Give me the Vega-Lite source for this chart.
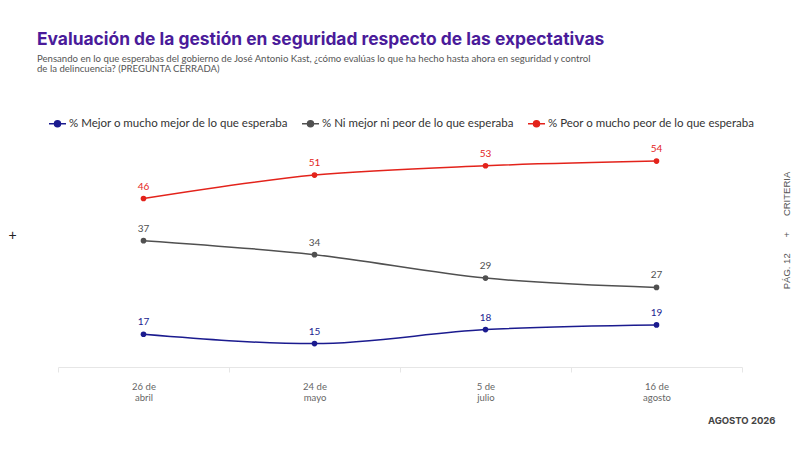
{
  "$schema": "https://vega.github.io/schema/vega-lite/v6.json",
  "width": 684,
  "height": 234,
  "autosize": {"type": "none"},
  "padding": {"left": 58, "top": 133, "right": 58, "bottom": 83},
  "background": "white",
  "config": {"view": {"stroke": null}, "font": "Lato"},
  "title": {
    "text": "Evaluación de la gestión en seguridad respecto de las expectativas",
    "subtitle": ["Pensando en lo que esperabas del gobierno de José Antonio Kast, ¿cómo evalúas lo que ha hecho hasta ahora en seguridad y control", "de la delincuencia? (PREGUNTA CERRADA)"],
    "anchor": "start",
    "frame": "group",
    "dx": -21,
    "offset": 40,
    "font": "Inter",
    "fontSize": 17.4,
    "fontWeight": 700,
    "color": "#4a1b9a",
    "subtitleFont": "Lato",
    "subtitleFontSize": 9.6,
    "subtitleColor": "#555555",
    "subtitlePadding": 6,
    "subtitleLineHeight": 10
  },
  "data": {
    "values": [
      {"fecha": "26 de abril", "serie": "% Mejor o mucho mejor de lo que esperaba", "valor": 17},
      {"fecha": "24 de mayo", "serie": "% Mejor o mucho mejor de lo que esperaba", "valor": 15},
      {"fecha": "5 de julio", "serie": "% Mejor o mucho mejor de lo que esperaba", "valor": 18},
      {"fecha": "16 de agosto", "serie": "% Mejor o mucho mejor de lo que esperaba", "valor": 19},
      {"fecha": "26 de abril", "serie": "% Ni mejor ni peor de lo que esperaba", "valor": 37},
      {"fecha": "24 de mayo", "serie": "% Ni mejor ni peor de lo que esperaba", "valor": 34},
      {"fecha": "5 de julio", "serie": "% Ni mejor ni peor de lo que esperaba", "valor": 29},
      {"fecha": "16 de agosto", "serie": "% Ni mejor ni peor de lo que esperaba", "valor": 27},
      {"fecha": "26 de abril", "serie": "% Peor o mucho peor de lo que esperaba", "valor": 46},
      {"fecha": "24 de mayo", "serie": "% Peor o mucho peor de lo que esperaba", "valor": 51},
      {"fecha": "5 de julio", "serie": "% Peor o mucho peor de lo que esperaba", "valor": 53},
      {"fecha": "16 de agosto", "serie": "% Peor o mucho peor de lo que esperaba", "valor": 54}
    ]
  },
  "encoding": {
    "x": {
      "field": "fecha",
      "type": "nominal",
      "sort": null,
      "scale": {"type": "band", "paddingInner": 0, "paddingOuter": 0},
      "axis": {
        "title": "AGOSTO 2026",
        "titleX": 717,
        "titleY": 53,
        "titleAlign": "right",
        "titleBaseline": "middle",
        "titleFont": "Inter",
        "titleFontSize": 9.5,
        "titleFontWeight": 700,
        "titleColor": "#444444",
        "labelAngle": 0,
        "labelExpr": "indexof(datum.label || '', ' de ') < 0 ? '' : [split(datum.label, ' de ')[0] + ' de', split(datum.label, ' de ')[1]]",
        "labelFontSize": 9.5,
        "labelColor": "#666666",
        "labelLineHeight": 11,
        "labelPadding": 9,
        "labelBaseline": "top",
        "domainColor": "#e6e6e6",
        "tickColor": "#e6e6e6",
        "tickBand": "extent",
        "tickSize": 5,
        "grid": false
      }
    },
    "color": {
      "field": "serie",
      "type": "nominal",
      "sort": null,
      "scale": {
        "domain": ["% Mejor o mucho mejor de lo que esperaba", "% Ni mejor ni peor de lo que esperaba", "% Peor o mucho peor de lo que esperaba"],
        "range": ["#1b1b8f", "#505050", "#e3231b"]
      },
      "legend": {
        "title": null,
        "orient": "none",
        "direction": "horizontal",
        "legendX": -10,
        "legendY": -19,
        "symbolType": "M-1,0L1,0M-0.35,0A0.35,0.35 0 1,1 0.35,0A0.35,0.35 0 1,1 -0.35,0Z",
        "symbolSize": 289,
        "symbolStrokeWidth": 1.5,
        "labelFontSize": 11.5,
        "labelColor": "#333333",
        "labelFont": "Lato",
        "labelOffset": 2,
        "labelLimit": 400,
        "columnPadding": 11
      }
    }
  },
  "layer": [
    {
      "mark": {"type": "line", "interpolate": "monotone", "strokeWidth": 1.5},
      "encoding": {
        "y": {
          "field": "valor",
          "type": "quantitative",
          "scale": {"domain": [10, 60]},
          "axis": {
            "orient": "right",
            "title": "PÁG. 12\u00a0\u00a0\u00a0\u00a0\u00a0\u00a0+\u00a0\u00a0\u00a0\u00a0\u00a0\u00a0CRITERIA",
            "titleAngle": 270,
            "titleX": 44,
            "titleY": 97,
            "titleAlign": "center",
            "titleBaseline": "middle",
            "titleFont": "Liberation Sans",
            "titleFontSize": 9.5,
            "titleFontWeight": 400,
            "titleColor": "#555555",
            "labels": false,
            "ticks": false,
            "domain": false,
            "grid": false
          }
        }
      }
    },
    {
      "mark": {"type": "point", "filled": true, "size": 32, "opacity": 1},
      "encoding": {"y": {"field": "valor", "type": "quantitative", "axis": null}}
    },
    {
      "mark": {"type": "text", "dy": -12, "fontSize": 10, "font": "Lato"},
      "encoding": {
        "y": {
          "field": "valor",
          "type": "quantitative",
          "axis": {
            "orient": "left",
            "title": "+",
            "titleAngle": 0,
            "titleX": -46,
            "titleY": 102,
            "titleAlign": "center",
            "titleBaseline": "middle",
            "titleFont": "Liberation Sans",
            "titleFontSize": 14,
            "titleFontWeight": 400,
            "titleColor": "#222222",
            "labels": false,
            "ticks": false,
            "domain": false,
            "grid": false
          }
        },
        "text": {"field": "valor", "type": "quantitative"}
      }
    }
  ],
  "resolve": {"axis": {"y": "independent"}}
}
